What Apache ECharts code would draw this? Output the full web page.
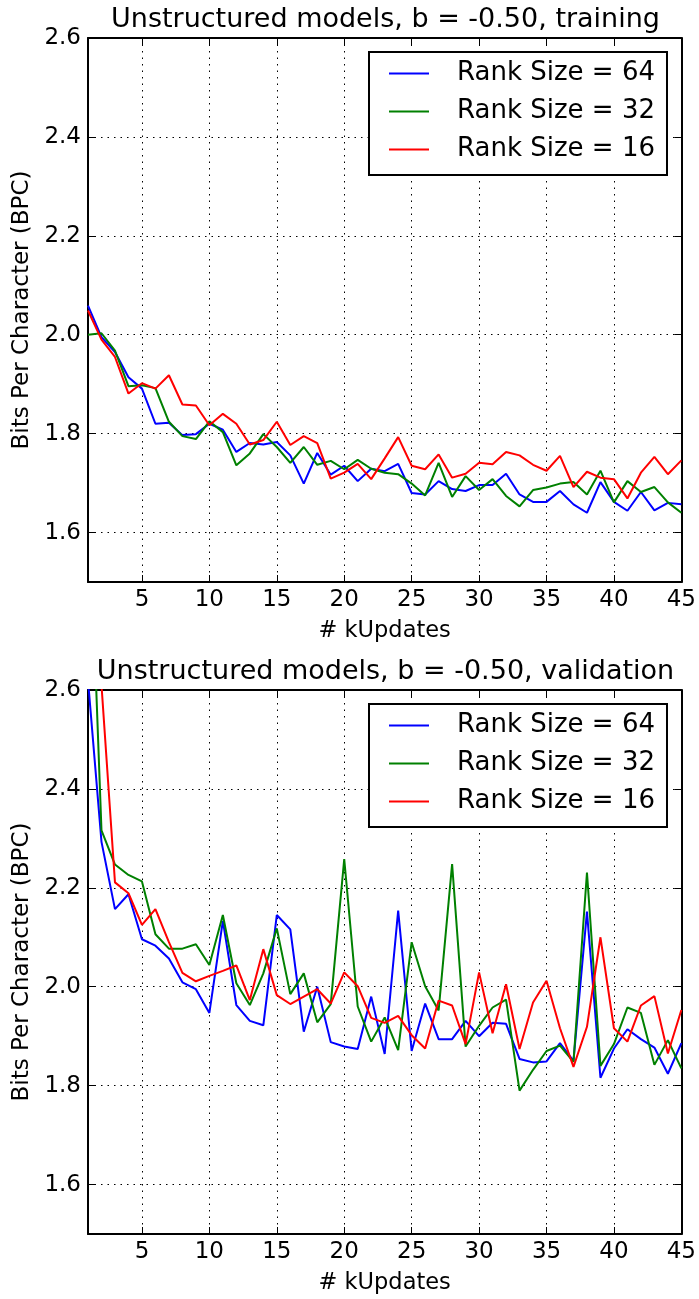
<!DOCTYPE html>
<html>
<head>
<meta charset="utf-8">
<script src="https://cdn.jsdelivr.net/npm/echarts@6/dist/echarts.min.js"></script>
<style>
html,body{margin:0;padding:0;background:#fff;}
#chart{width:699px;height:1299px;}
</style>
</head>
<body>
<div id="chart"></div>
<script>
const kUpdates = [1,2,3,4,5,6,7,8,9,10,11,12,13,14,15,16,17,18,19,20,21,22,23,24,25,26,27,28,29,30,31,32,33,34,35,36,37,38,39,40,41,42,43,44,45];

const trainRank64 = [2.059,1.995,1.965,1.914,1.891,1.820,1.822,1.797,1.799,1.820,1.808,1.763,1.781,1.778,1.783,1.756,1.699,1.761,1.717,1.735,1.704,1.729,1.724,1.739,1.680,1.677,1.704,1.688,1.684,1.696,1.696,1.719,1.677,1.662,1.662,1.684,1.657,1.640,1.702,1.662,1.644,1.682,1.645,1.660,1.657];
const trainRank32 = [2.000,2.003,1.968,1.896,1.898,1.892,1.824,1.795,1.789,1.825,1.803,1.736,1.760,1.799,1.773,1.741,1.773,1.737,1.745,1.728,1.747,1.729,1.721,1.718,1.699,1.675,1.741,1.672,1.714,1.686,1.708,1.674,1.653,1.686,1.691,1.699,1.702,1.677,1.725,1.661,1.704,1.682,1.692,1.661,1.640];
const trainRank16 = [2.049,1.990,1.955,1.881,1.902,1.891,1.918,1.859,1.857,1.817,1.840,1.820,1.778,1.787,1.824,1.777,1.795,1.781,1.709,1.721,1.739,1.708,1.750,1.793,1.735,1.728,1.758,1.711,1.719,1.741,1.738,1.763,1.756,1.737,1.725,1.755,1.692,1.723,1.711,1.708,1.669,1.721,1.753,1.718,1.746];

const validRank64 = [2.62,2.293,2.157,2.187,2.096,2.083,2.057,2.009,1.995,1.947,2.133,1.963,1.931,1.922,2.145,2.116,1.909,2.000,1.888,1.879,1.874,1.980,1.864,2.154,1.870,1.966,1.894,1.894,1.931,1.900,1.927,1.925,1.854,1.847,1.849,1.886,1.850,2.152,1.816,1.875,1.914,1.894,1.877,1.824,1.886];
const validRank32 = [3.05,2.316,2.247,2.226,2.213,2.106,2.077,2.077,2.086,2.044,2.145,2.007,1.963,2.027,2.118,1.985,2.027,1.928,1.965,2.258,1.960,1.889,1.938,1.872,2.090,2.001,1.952,2.248,1.879,1.921,1.958,1.974,1.790,1.832,1.870,1.881,1.848,2.231,1.840,1.884,1.958,1.947,1.842,1.892,1.835];
const validRank16 = [3.20,2.61,2.211,2.189,2.125,2.157,2.090,2.028,2.011,2.022,2.032,2.043,1.973,2.076,1.983,1.965,1.980,1.995,1.966,2.029,2.001,1.937,1.927,1.941,1.902,1.875,1.972,1.962,1.884,2.029,1.906,2.005,1.874,1.968,2.012,1.916,1.838,1.919,2.100,1.916,1.889,1.962,1.981,1.865,1.953];

const xTicks = [5,10,15,20,25,30,35,40,45];
const yTicks = [1.6,1.8,2.0,2.2,2.4,2.6];
const seriesNames = ['Rank Size = 64','Rank Size = 32','Rank Size = 16'];
const seriesColors = ['#0000ff','#008000','#ff0000'];
const titles = ['Unstructured models, b = -0.50, training','Unstructured models, b = -0.50, validation'];

const FONT = 'DejaVu Sans';
const plotLeft = 88, plotWidth = 595, plotHeight = 544;
const plotTops = [38, 690];

function pairs(arr){ return kUpdates.map((k,i)=>[k, arr[i]]); }

const grids = [], xAxes = [], yAxes = [], series = [], legends = [], titleList = [];
const panels = [[trainRank64,trainRank32,trainRank16],[validRank64,validRank32,validRank16]];

panels.forEach((panel, g) => {
  grids.push({left: plotLeft, top: plotTops[g], width: plotWidth, height: plotHeight, containLabel: false});
  const xi = xAxes.length, yi = yAxes.length;
  xAxes.push({
    gridIndex: g, type: 'value', min: 1, max: 45, position: 'bottom',
    name: '# kUpdates', nameLocation: 'middle', nameGap: 38,
    nameTextStyle: {fontFamily: FONT, fontSize: 22.5, color: '#000'},
    axisLine: {show: true, onZero: false, lineStyle: {color: '#000', width: 2}},
    axisTick: {show: true, inside: true, length: 7, customValues: xTicks, lineStyle: {color: '#000', width: 1}},
    axisLabel: {customValues: xTicks, fontFamily: FONT, fontSize: 23, color: '#000', margin: 7},
    splitLine: {show: true, lineStyle: {color: '#000', width: 1, type: [1.5, 5]}}
  });
  xAxes.push({
    gridIndex: g, type: 'value', min: 1, max: 45, position: 'top',
    axisLine: {show: true, onZero: false, lineStyle: {color: '#000', width: 2}},
    axisTick: {show: true, inside: true, length: 7, customValues: xTicks, lineStyle: {color: '#000', width: 1}},
    axisLabel: {show: false}, splitLine: {show: false}
  });
  yAxes.push({
    gridIndex: g, type: 'value', min: 1.5, max: 2.6, position: 'left',
    name: 'Bits Per Character (BPC)', nameLocation: 'middle', nameGap: 54, nameRotate: 90,
    nameTextStyle: {fontFamily: FONT, fontSize: 23, color: '#000'},
    axisLine: {show: true, onZero: false, lineStyle: {color: '#000', width: 2}},
    axisTick: {show: true, inside: true, length: 7, customValues: yTicks, lineStyle: {color: '#000', width: 1}},
    axisLabel: {customValues: yTicks, fontFamily: FONT, fontSize: 23, color: '#000', margin: 7,
      formatter: v => Number(v).toFixed(1)},
    splitLine: {show: true, lineStyle: {color: '#000', width: 1, type: [1.5, 5]}}
  });
  yAxes.push({
    gridIndex: g, type: 'value', min: 1.5, max: 2.6, position: 'right',
    axisLine: {show: true, onZero: false, lineStyle: {color: '#000', width: 2}},
    axisTick: {show: true, inside: true, length: 7, customValues: yTicks, lineStyle: {color: '#000', width: 1}},
    axisLabel: {show: false}, splitLine: {show: false}
  });
  panel.forEach((arr, s) => {
    series.push({
      type: 'line', name: seriesNames[s], xAxisIndex: xi, yAxisIndex: yi,
      data: pairs(arr), symbol: 'none', showSymbol: false, clip: true,
      color: seriesColors[s],
      lineStyle: {color: seriesColors[s], width: 2},
      z: 3
    });
  });
  legends.push({
    data: seriesNames, orient: 'vertical', left: 369, top: plotTops[g] + 14,
    backgroundColor: '#fff', borderColor: '#000', borderWidth: 2,
    padding: [8, 12, 12, 20], itemWidth: 40, itemHeight: 2, itemGap: 11, icon: 'rect',
    selectedMode: false,
    textStyle: {fontFamily: FONT, fontSize: 26, color: '#000', lineHeight: 27, padding: [0, 0, 0, 23]}
  });
  titleList.push({
    text: titles[g], left: plotLeft + plotWidth / 2, top: plotTops[g] - 32, textAlign: 'center', padding: 0,
    textStyle: {fontFamily: FONT, fontSize: 27, fontWeight: 'normal', color: '#000'}
  });
});

const chart = echarts.init(document.getElementById('chart'), null, {renderer: 'canvas'});
chart.setOption({
  animation: false,
  backgroundColor: '#fff',
  title: titleList,
  legend: legends,
  grid: grids,
  xAxis: xAxes,
  yAxis: yAxes,
  series: series
});
</script>
</body>
</html>
